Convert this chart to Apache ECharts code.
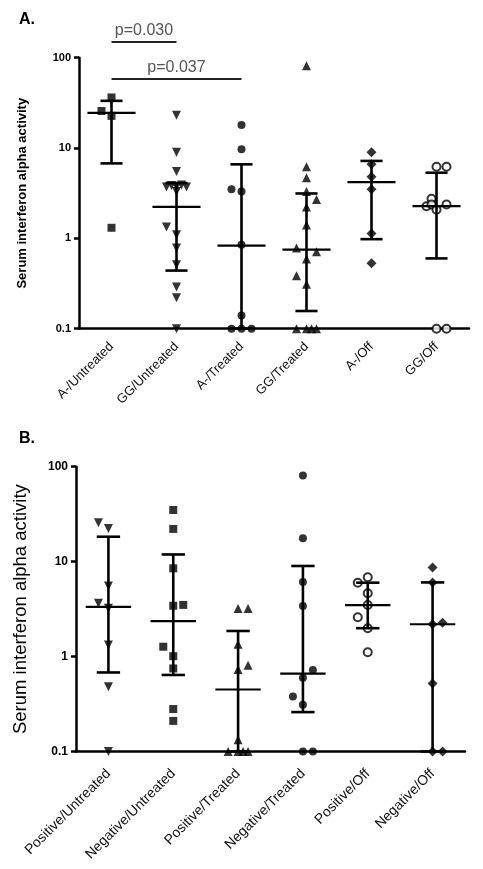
<!DOCTYPE html>
<html><head><meta charset="utf-8">
<script src="https://cdn.jsdelivr.net/npm/echarts@6/dist/echarts.min.js"></script>
<style>html,body{margin:0;padding:0;background:#fff}#c{width:483px;height:869px}</style>
</head><body><div id="c"></div>
<script>
// ---------- data ----------
const catsA = ['A-/Untreated','GG/Untreated','A-/Treated','GG/Treated','A-/Off','GG/Off'];
const catsB = ['Positive/Untreated','Negative/Untreated','Positive/Treated','Negative/Treated','Positive/Off','Negative/Off'];
const yTicks = [0.1, 1, 10, 100];
const yTitle = 'Serum interferon alpha activity';
const pLabels = ['p=0.030', 'p=0.037'];
const pFrom = [0, 0];
const pTo = [1, 2];
const pLevel = [149, 58];

// panel A values (each group) and horizontal jitter slot of each dot
const aAUntr = [36.3, 25.7, 22.7, 1.31];
const sAUntr = [0, -2, 0, 0];
const aGGUntr = [23, 9.0, 5.5, 3.7, 3.85, 3.75, 3.9, 3.7, 3.3, 1.34, 1.1, 0.78, 0.51, 0.29, 0.22, 0.1];
const sGGUntr = [0, 0, 0, -2, -1, 0, 1, 2, 0, -2, 0, 0, 0, 0, 0, 0];
const aATr = [18, 9.7, 3.5, 3.3, 0.85, 0.14, 0.1, 0.1, 0.1];
const sATr = [0, 0, -2, 0, 0, 0, -2, 0, 2];
const aGGTr = [81.5, 6.2, 4.7, 3.3, 2.7, 2.23, 1.41, 0.78, 0.71, 0.59, 0.385, 0.31, 0.1, 0.1, 0.1, 0.1];
const sGGTr = [0, 0, 0, 0, 2, 0, 0, -2, 2, 0, -2, 0, -2, 0, 1, 2];
const aAOff = [9.0, 6.6, 4.8, 3.5, 1.13, 0.53];
const sAOff = [0, 0, 0, 0, 0, 0];
const aGGOff = [6.2, 6.2, 2.74, 2.27, 2.37, 2.08, 2.37, 0.1, 0.1];
const sGGOff = [0, 2, -1, -2, -1, 0, 2, 0, 2];
const medA = [24.5, 2.23, 0.83, 0.75, 4.19, 2.27];
const q1A  = [6.76, 0.44, 0.1, 0.157, 0.98, 0.6];
const q3A  = [33.3, 4.1, 6.6, 3.14, 7.2, 5.33];

// panel B
const bPosUntr = [25.7, 22.4, 5.54, 3.64, 3.22, 1.32, 0.48, 0.1];
const sPosUntr = [-2, 0, 0, -2, 0, 0, 0, 0];
const bNegUntr = [35, 22.1, 8.5, 3.43, 3.5, 1.27, 1.01, 0.75, 0.28, 0.21];
const sNegUntr = [0, 0, 0, 0, 2, -2, 0, 0, 0, 0];
const bPosTr = [3.2, 3.2, 1.35, 0.81, 0.73, 0.133, 0.1, 0.1, 0.1, 0.1];
const sPosTr = [0, 2, 0, 2, 0, 0, -2, 0, 1, 2];
const bNegTr = [80.7, 17.6, 6.1, 3.4, 0.72, 0.6, 0.38, 0.31, 0.1, 0.1];
const sNegTr = [0, 0, 0, 0, 2, 0, -2, 0, 0, 2];
const bPosOff = [6.0, 6.84, 4.64, 3.49, 2.59, 1.99, 1.11];
const sPosOff = [-2, 0, 0, 0, -2, 0, 0];
const bNegOff = [8.7, 6.04, 2.19, 2.27, 0.52, 0.1, 0.1];
const sNegOff = [0, 0, 0, 2, 0, 0, 2];
const medB = [3.34, 2.36, 0.45, 0.66, 3.49, 2.19];
const q1B  = [0.68, 0.64, 0.1, 0.26, 1.99, 0.1];
const q3B  = [18.3, 11.9, 1.86, 9.0, 6.0, 6.04];

// ---------- build ----------
const FONT = '"Liberation Sans", Arial, Helvetica, sans-serif';
const STEP = 0.077;
const groupsA = [[aAUntr,sAUntr],[aGGUntr,sGGUntr],[aATr,sATr],[aGGTr,sGGTr],[aAOff,sAOff],[aGGOff,sGGOff]];
const groupsB = [[bPosUntr,sPosUntr],[bNegUntr,sNegUntr],[bPosTr,sPosTr],[bNegTr,sNegTr],[bPosOff,sPosOff],[bNegOff,sNegOff]];
const symA = [['rect',8,0],['triangle',9,180],['circle',8,0],['triangle',9,0],['diamond',10,0],['emptyCircle',8,0]];
const symB = [['triangle',9,180],['rect',8,0],['triangle',9,0],['circle',8,0],['emptyCircle',8,0],['diamond',10,0]];

function scatterSeries(groups, syms, xi, yi){
  return groups.map((g, i) => ({
    type: 'scatter', xAxisIndex: xi, yAxisIndex: yi, z: 2,
    symbol: syms[i][0], symbolSize: syms[i][1], symbolRotate: syms[i][2],
    itemStyle: syms[i][0] === 'emptyCircle' ? {color:'#000', borderColor:'#000', borderWidth:1.7} : {color:'#000'},
    emphasis: {disabled: true},
    data: g[0].map((v, k) => [i + g[1][k] * STEP, v])
  }));
}
function errSeries(med, q1, q3, xi, yi, mw, cw){
  return {
    type: 'custom', xAxisIndex: xi, yAxisIndex: yi, z: 3, clip: false,
    data: med.map((m, i) => [i, m, q1[i], q3[i]]),
    renderItem: (params, api) => {
      const i = api.value(0);
      const c = api.coord([i, api.value(1)]);
      const lo = api.coord([i, api.value(2)]);
      const hi = api.coord([i, api.value(3)]);
      const w = api.coord([i + 1, api.value(1)])[0] - c[0];
      const st = {stroke:'#000', lineWidth:2.6};
      return {type:'group', children:[
        {type:'line', shape:{x1:c[0], y1:lo[1], x2:c[0], y2:hi[1]}, style:st},
        {type:'line', shape:{x1:c[0]-w*cw, y1:hi[1], x2:c[0]+w*cw, y2:hi[1]}, style:st},
        {type:'line', shape:{x1:c[0]-w*cw, y1:lo[1], x2:c[0]+w*cw, y2:lo[1]}, style:st},
        {type:'line', shape:{x1:c[0]-w*mw, y1:c[1], x2:c[0]+w*mw, y2:c[1]}, style:{stroke:'#000', lineWidth:2.2}}
      ]};
    }
  };
}
const bracketSeries = {
  type:'custom', xAxisIndex:1, yAxisIndex:0, z:4, clip:false,
  data: pLabels.map((t, k) => [pFrom[k], pTo[k], pLevel[k]]),
  renderItem: (params, api) => {
    const a = api.coord([api.value(0), api.value(2)]);
    const b = api.coord([api.value(1), api.value(2)]);
    return {type:'group', children:[
      {type:'line', shape:{x1:a[0], y1:a[1], x2:b[0], y2:b[1]}, style:{stroke:'#222', lineWidth:2}},
      {type:'text', style:{text:pLabels[params.dataIndex], x:(a[0]+b[0])/2, y:a[1]-3, align:'center', verticalAlign:'bottom', font:'16px ' + FONT, fill:'#555'}}
    ]};
  }
};

function catAxis(grid, cats, fs, margin){
  return {gridIndex:grid, type:'category', data:cats,
    axisLine:{lineStyle:{color:'#000', width:2.5}},
    axisTick:{alignWithLabel:true, length:5, lineStyle:{color:'#000', width:2.5}},
    axisLabel:{rotate:45, interval:0, fontSize:fs, color:'#111', margin:margin, fontFamily:FONT},
    splitLine:{show:false}};
}
function valAxis(grid){
  return {gridIndex:grid, type:'value', min:-0.5, max:5.5, show:false};
}
function logAxis(grid, fs, nameFs, nameW, gap){
  return {gridIndex:grid, type:'log', logBase:10, min:yTicks[0], max:yTicks[yTicks.length-1],
    axisLine:{show:true, onZero:false, lineStyle:{color:'#000', width:2.5}},
    axisTick:{show:true, length:5, lineStyle:{color:'#000', width:2.5}},
    minorTick:{show:false}, splitLine:{show:false},
    axisLabel:{fontSize:fs, fontWeight:'bold', color:'#000', margin:8, fontFamily:FONT,
      formatter: v => String(+v.toPrecision(3))},
    name:yTitle, nameLocation:'middle', nameGap:gap,
    nameTextStyle:{fontSize:nameFs, fontWeight:nameW, color:'#000', fontFamily:FONT}};
}

const chart = echarts.init(document.getElementById('c'), null, {renderer:'canvas'});
chart.setOption({
  animation:false,
  backgroundColor:'#fff',
  grid:[
    {left:79, top:57.7, width:390, height:271},
    {left:76, top:466.7, width:389, height:284.8}
  ],
  xAxis:[catAxis(0, catsA, 13, 16), valAxis(0), catAxis(1, catsB, 14, 20), valAxis(1)],
  yAxis:[logAxis(0, 11, 13, 'bold', 50), logAxis(1, 12, 18.5, 'normal', 46)],
  graphic:[
    {type:'text', left:19, top:12, style:{text:'A.', font:'bold 16px ' + FONT, fill:'#000'}},
    {type:'text', left:19, top:431, style:{text:'B.', font:'bold 16px ' + FONT, fill:'#000'}}
  ],
  series:[].concat(
    scatterSeries(groupsA, symA, 1, 0),
    scatterSeries(groupsB, symB, 3, 1),
    [errSeries(medA, q1A, q3A, 1, 0, 0.37, 0.17),
     errSeries(medB, q1B, q3B, 3, 1, 0.35, 0.18),
     bracketSeries]
  )
});
</script>
</body></html>
